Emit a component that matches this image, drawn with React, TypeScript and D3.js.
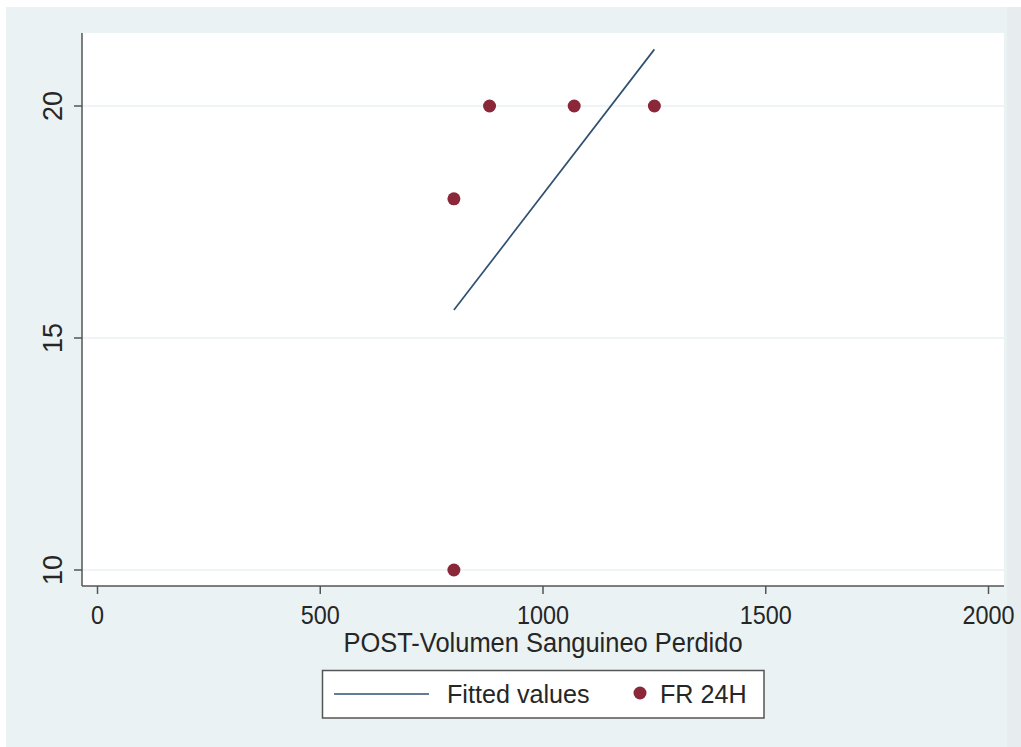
import React from 'react';
import * as d3 from 'd3';

// FR 24H vs POST-Volumen Sanguineo Perdido
const volumen = [800, 880, 1070, 1250, 800];
const fr24h = [18, 20, 20, 20, 10];
const xTicks = [0, 500, 1000, 1500, 2000];
const yTicks = [10, 15, 20];

const W = 1021;
const H = 747;
const plot = { left: 82, right: 1004, top: 33, bottom: 586 };

const BG = '#EAF2F3';
const MAROON = '#8A2738';
const NAVY = '#2F5070';
const INK = '#262626';
const FONT = 'Arial, "Liberation Sans", sans-serif';

function fit(xs: number[], ys: number[]) {
    const mx = d3.mean(xs) as number;
    const my = d3.mean(ys) as number;
    const sxy = d3.sum(xs, (x, i) => (x - mx) * (ys[i] - my));
    const sxx = d3.sum(xs, x => (x - mx) ** 2);
    const b = sxy / sxx;
    return (x: number) => my + b * (x - mx);
}

export default function App() {
    const x = d3.scaleLinear().domain([0, 2000]).range([97.5, 988.5]);
    const y = d3.scaleLinear().domain([10, 20]).range([570, 106]);

    const f = fit(volumen, fr24h);
    const [x0, x1] = d3.extent(volumen) as [number, number];
    const line = d3.line<number>()
        .x(d => x(d))
        .y(d => y(f(d)));

    const points = volumen.map((v, i) => ({ v, fr: fr24h[i] }));

    return (
        <svg width={W} height={H} style={{ position: 'absolute', left: 0, top: 0 }} fontFamily={FONT}>
            <rect width={W} height={H} fill="#fff" />
            <rect x={6} y={7} width={W - 6} height={H - 7} fill={BG} />
            <rect x={1007} y={7} width={W - 1007} height={H - 7} fill="#E7EDEF" />

            {/* plot region */}
            <rect x={plot.left} y={plot.top} width={plot.right - plot.left} height={plot.bottom - plot.top} fill="#fff" />
            {yTicks.map(t => (
                <line key={t} x1={plot.left} x2={plot.right} y1={y(t)} y2={y(t)} stroke={BG} strokeWidth={1.5} />
            ))}

            {/* axes */}
            <line x1={plot.left} x2={plot.left} y1={plot.top} y2={plot.bottom} stroke="#555" strokeWidth={1.5} />
            <line x1={plot.left} x2={plot.right} y1={plot.bottom} y2={plot.bottom} stroke="#555" strokeWidth={1.5} />
            {yTicks.map(t => (
                <g key={t}>
                    <line x1={plot.left - 8} x2={plot.left} y1={y(t)} y2={y(t)} stroke="#555" strokeWidth={1.5} />
                    <text transform={`translate(62,${y(t)}) rotate(-90)`} textAnchor="middle" fontSize={27} fill={INK}>{t}</text>
                </g>
            ))}
            {xTicks.map(t => (
                <g key={t}>
                    <line x1={x(t)} x2={x(t)} y1={plot.bottom} y2={plot.bottom + 8} stroke="#555" strokeWidth={1.5} />
                    <text transform={`translate(${x(t)},624) scale(0.9,1)`} textAnchor="middle" fontSize={26} fill={INK}>{t}</text>
                </g>
            ))}
            <text transform={`translate(${(plot.left + plot.right) / 2},652) scale(0.91,1)`} textAnchor="middle" fontSize={28} fill={INK}>
                POST-Volumen Sanguineo Perdido
            </text>

            {/* fitted line and points */}
            <path d={line([x0, x1]) || ''} fill="none" stroke={NAVY} strokeWidth={1.7} />
            {points.map((p, i) => (
                <circle key={i} cx={x(p.v)} cy={y(p.fr)} r={6.5} fill={MAROON} />
            ))}

            {/* legend */}
            <rect x={322.5} y={670.5} width={441.5} height={47.5} fill="#fff" stroke="#555" strokeWidth={1.5} />
            <line x1={334} x2={429} y1={694} y2={694} stroke={NAVY} strokeWidth={1.7} />
            <text transform="translate(447,703) scale(0.95,1)" fontSize={26.5} fill={INK}>Fitted values</text>
            <circle cx={640} cy={693} r={6.5} fill={MAROON} />
            <text transform="translate(660,703) scale(0.95,1)" fontSize={26.5} fill={INK}>FR 24H</text>
        </svg>
    );
}
